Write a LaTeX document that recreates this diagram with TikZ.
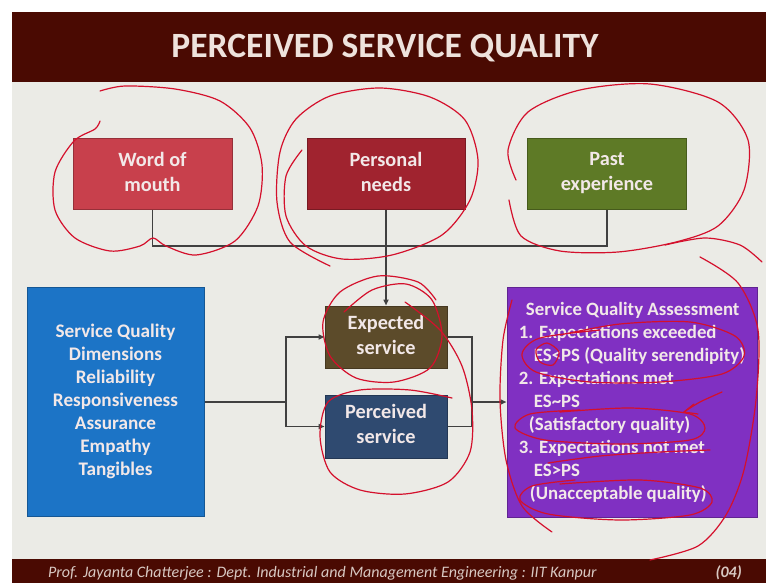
\documentclass[tikz,border=0pt]{standalone}
\usepackage{fontspec}
\setmainfont{Carlito}
\usetikzlibrary{arrows.meta}

\definecolor{barcol}{HTML}{4A0A02}
\definecolor{bgcol}{HTML}{EBEBE6}
\definecolor{womcol}{HTML}{C8404C}
\definecolor{pncol}{HTML}{A0232F}
\definecolor{pecol}{HTML}{5E7A26}
\definecolor{escol}{HTML}{5C4B2A}
\definecolor{pscol}{HTML}{2F4A70}
\definecolor{sqdcol}{HTML}{1C74C6}
\definecolor{sqacol}{HTML}{8030C2}
\definecolor{boxtext}{HTML}{F2E8E8}
\definecolor{titletext}{HTML}{EEE2DC}
\definecolor{foottext}{HTML}{D8C8C2}
\definecolor{linecol}{HTML}{404040}
\definecolor{inkcol}{HTML}{D4102C}

% invisible rules that fix the height above / depth below a text block
\newcommand{\topgap}[1]{\rule{0pt}{#1}}
\newcommand{\botgap}[1]{\rule[-#1]{0pt}{#1}}

\tikzset{
  card/.style={rectangle, draw=#1!75!black, fill=#1, line width=1pt,
    text=boxtext, font=\fontsize{20.3}{25}\selectfont\bfseries,
    align=center, inner sep=0pt},
  twoline/.style={execute at begin node={\topgap{26pt}},
    execute at end node={\botgap{5pt}}},
  listtext/.style={font=\fontsize{19.2}{23}\selectfont\bfseries},
  conn/.style={draw=linecol, line width=1.6pt},
  arr/.style={conn, -{Triangle[length=6pt,width=5pt]}},
  ink/.style={draw=inkcol, line width=1.2pt, line cap=round, line join=round}
}

\begin{document}
\begin{tikzpicture}[x=1pt,y=-1pt]
\useasboundingbox (0,0) rectangle (766,583);
\fill[white] (0,0) rectangle (766,583);
\fill[bgcol] (12,82) rectangle (766,559);
\fill[barcol] (12,12) rectangle (766,82);
\fill[barcol] (12,559) rectangle (766,583);

% title and footer
\node[text=titletext, font=\fontsize{35.5}{38}\selectfont\bfseries] (title) at (385,48) {PERCEIVED SERVICE QUALITY};
\node[text=foottext, font=\fontsize{16}{18}\selectfont\itshape, anchor=base west, inner sep=0pt] (footer) at (48,577) {Prof. Jayanta Chatterjee : Dept. Industrial and Management Engineering : IIT Kanpur};
\node[text=foottext, font=\fontsize{16}{18}\selectfont\bfseries\itshape, anchor=base east, inner sep=0pt] (page) at (742,577) {(04)};

% influences on expectation
\node[card=womcol, twoline, minimum width=159pt, minimum height=70pt] (wom) at (152.5,174) {Word of\\mouth};
\node[card=pncol, twoline, minimum width=158pt, minimum height=70pt] (pn) at (386,174) {Personal\\needs};
\node[card=pecol, twoline, minimum width=159pt, minimum height=70pt] (pe) at (607,174) {Past\\experience};

% expected / perceived
\node[card=escol, twoline, minimum width=122pt, minimum height=62pt] (es) at (386,337) {Expected\\service};
\node[card=pscol, twoline, minimum width=122pt, minimum height=63pt] (ps) at (386,426.5) {Perceived\\service};

% dimensions and assessment
\node[card=sqdcol, minimum width=177pt, minimum height=229pt, listtext,
  execute at begin node={\topgap{20.5pt}}] (sqd) at (115.5,401.5)
  {Service Quality\\Dimensions\\Reliability\\Responsiveness\\Assurance\\Empathy\\Tangibles};
\node[card=sqacol, minimum width=250pt, minimum height=230pt, font=\fontsize{18.8}{23}\selectfont\bfseries, align=left] (sqa) at (632,402)
  {\hspace*{7pt}Service Quality Assessment\\
   1. Expectations exceeded\\
   \hspace*{15pt}ES{<}PS (Quality serendipity)\\
   2. Expectations met\\
   \hspace*{15pt}ES\textasciitilde PS\\
   \hspace*{10pt}(Satisfactory quality)\\
   3. Expectations not met\\
   \hspace*{15pt}ES{>}PS\\
   \hspace*{11pt}(Unacceptable quality)};

% connectors
\coordinate (junc) at (386,246);
\coordinate (lsplit) at (286,402);
\coordinate (rjoin) at (472,402);
\draw[conn] (wom.south) |- (junc) -| (pe.south);
\draw[conn] (pn.south) -- (junc);
\draw[arr] (junc) -- (es.north);
\draw[conn] (sqd.east |- lsplit) -- (lsplit);
\draw[arr] (lsplit) |- (es.west);
\draw[arr] (lsplit) |- (ps.west);
\draw[conn] (es.east) -| (rjoin);
\draw[conn] (ps.east) -| (rjoin);
\draw[arr] (rjoin) -- (sqa.west |- rjoin);

% hand-drawn pen marks
\draw[ink] plot[smooth] coordinates {(100,121) (95,129) (74,141) (55,172) (55,210) (75,238) (110,251) (140,246) (153,238) (166,246) (196,255) (235,241) (258,206) (262,165) (250,128) (220,101) (175,89) (125,86) (100,91)};
\draw[ink] plot[smooth] coordinates {(302,150) (286,176) (286,216) (306,246) (342,259) (392,255) (442,235) (470,200) (478,160) (465,120) (430,97) (380,88) (330,96) (296,119) (280,152) (277,202) (290,242) (330,266)};
\draw[ink] plot[smooth] coordinates {(516,180) (508,150) (528,112) (580,90) (650,84) (718,102) (748,140) (744,190) (718,226) (676,242) (618,252) (560,251) (521,236) (509,200)};
\draw[ink] plot[smooth] coordinates {(665,245) (705,238) (740,245) (762,262)};
\draw[ink] plot[smooth] coordinates {(344,312) (372,290) (406,284) (432,300) (442,336) (430,368) (394,382) (356,378) (330,356) (323,322) (340,292) (378,276) (418,282) (436,300)};
\draw[ink] plot[smooth] coordinates {(405,302) (440,330) (462,366) (472,410) (470,452) (448,482) (405,494) (360,490) (330,472) (320,436) (328,402) (360,390) (410,390) (452,398)};
\draw[ink] plot[smooth] coordinates {(700,257) (738,283) (758,330) (756,400) (744,470) (726,515) (698,546) (650,560)};
\draw[ink] plot[smooth] coordinates {(512,300) (503,340) (500,400) (506,460) (522,506) (552,532)};
\draw[ink] plot[smooth] coordinates {(560,335) (620,324) (690,322) (735,336) (744,356) (722,374) (660,382) (590,382) (536,372) (522,354) (540,338) (600,330)};
\draw[ink] plot[smooth cycle] coordinates {(547,343) (559,352) (553,365) (540,362) (536,350)};
\draw[ink] plot[smooth] coordinates {(722,392) (700,402) (684,412)};
\draw[ink] (684,412) -- (694,404);
\draw[ink] (684,412) -- (698,414);
\draw[ink] plot[smooth] coordinates {(560,412) (630,408) (690,414) (705,428) (690,440) (620,444) (545,440) (515,428) (530,414) (580,410)};
\draw[ink] plot[smooth] coordinates {(548,463) (600,456) (660,452) (710,450)};
\draw[ink] plot[smooth] coordinates {(560,484) (640,480) (700,488) (712,502) (690,515) (620,520) (548,514) (520,500) (532,486) (575,480)};
\end{tikzpicture}
\end{document}
